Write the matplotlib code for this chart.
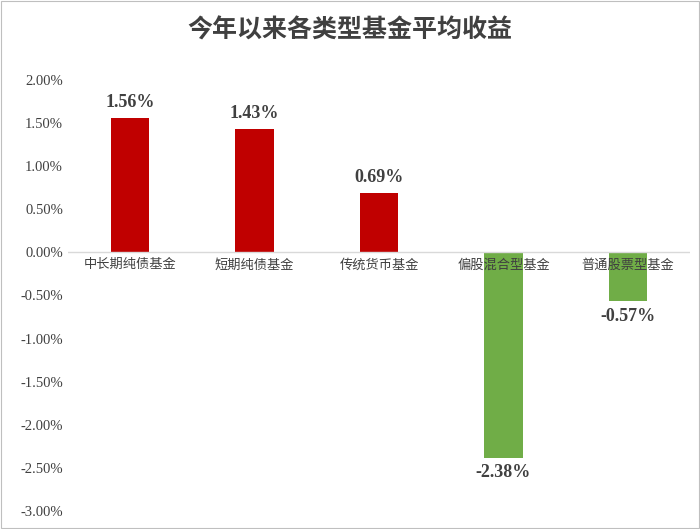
import matplotlib.pyplot as plt
from matplotlib.patches import Rectangle

categories = ['中长期纯债基金', '短期纯债基金', '传统货币基金', '偏股混合型基金', '普通股票型基金']
values = [1.56, 1.43, 0.69, -2.38, -0.57]
yticks = [2.0, 1.5, 1.0, 0.5, 0.0, -0.5, -1.0, -1.5, -2.0, -2.5, -3.0]

cjk = ['Noto Sans CJK SC', 'DejaVu Sans']
serif = ['Liberation Serif', 'DejaVu Serif']

fig = plt.figure(figsize=(7, 5.29), dpi=100)
ax = fig.add_axes([0.097, 0.034, 0.889, 0.815])
fig.patches.append(Rectangle((0.002, 0.002), 0.996, 0.996, transform=fig.transFigure,
                             fill=False, edgecolor='#bfbfbf', linewidth=0.8))

colors = ['#c00000' if v > 0 else '#70ad47' for v in values]
x = range(len(categories))
ax.bar(x, values, width=0.31, color=colors)

for i, v in enumerate(values):
    off = 0.08 if v > 0 else -0.08
    ax.text(i, v + off, f'{v:.2f}%', ha='center', va='bottom' if v > 0 else 'top',
            fontsize=13, fontweight='bold', family=serif, color='#404040')
    ax.text(i, -0.07, categories[i], ha='center', va='top', fontsize=9.5,
            family=cjk, color='#404040')

ax.set_xlim(-0.5, len(categories) - 0.5)
ax.set_ylim(-3.0, 2.0)
ax.set_yticks(yticks)
ax.set_yticklabels([f'{t:.2f}%' for t in yticks], family=serif, fontsize=10.5, color='#404040')
ax.set_xticks([])
ax.axhline(0, color='#d9d9d9', linewidth=1)
for s in ax.spines.values():
    s.set_visible(False)
ax.tick_params(axis='y', length=0)

fig.suptitle('今年以来各类型基金平均收益', y=0.965, fontsize=18, fontweight='bold',
             family=cjk, color='#404040')

fig.savefig('out.png', dpi=100)
